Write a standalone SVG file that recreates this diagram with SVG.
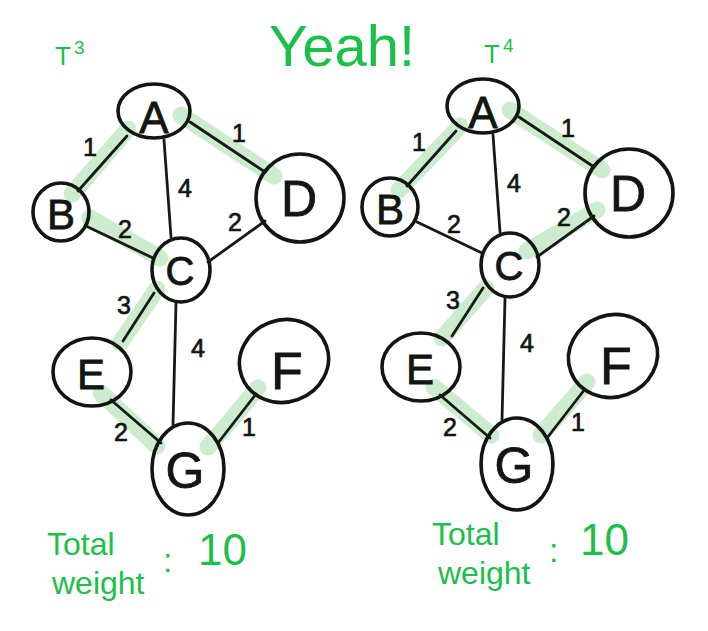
<svg xmlns="http://www.w3.org/2000/svg" width="708" height="631" viewBox="0 0 708 631">
<style>
.hl{stroke:#cdecce;stroke-width:17;stroke-linecap:round;fill:none}
.ed{stroke:#141b15;stroke-width:2.8;stroke-linecap:round;fill:none}
.nd{stroke:#111611;stroke-width:3.6;fill:none}
.lb{font-family:"Liberation Sans",Arial,sans-serif;fill:#111611;stroke:#111611;stroke-width:0.8;text-anchor:middle}
.w{font-family:"Liberation Sans",Arial,sans-serif;fill:#111611;stroke:#111611;stroke-width:0.7;text-anchor:middle;font-size:25px}
.g{font-family:"Liberation Sans",Arial,sans-serif;fill:#1cbf47}
</style>
<rect width="708" height="631" fill="#ffffff"/>
<text class="g" x="342" y="66" font-size="58" text-anchor="middle">Yeah!</text>

<g id="tree3">
<text class="g" x="55" y="65" font-size="26">T</text><text class="g" x="74" y="54" font-size="19">3</text>
<g id="connectors-t3">
<line class="hl" x1="128" y1="129" x2="72" y2="194"/>
<line class="hl" x1="181" y1="115" x2="274" y2="176"/>
<line class="hl" x1="90" y1="218" x2="160" y2="258"/>
<line class="hl" x1="157" y1="289" x2="120" y2="343"/>
<line class="hl" x1="101" y1="393" x2="157" y2="446"/>
<line class="hl" x1="208" y1="447" x2="258" y2="388"/>
<line class="ed" x1="127" y1="136" x2="78" y2="191"/>
<line class="ed" x1="190" y1="122" x2="265" y2="172"/>
<line class="ed" x1="164" y1="140" x2="171" y2="237"/>
<line class="ed" x1="88" y1="227" x2="153" y2="258"/>
<line class="ed" x1="208" y1="262" x2="265" y2="221"/>
<line class="ed" x1="154" y1="293" x2="123" y2="341"/>
<line class="ed" x1="176" y1="303" x2="173" y2="425"/>
<line class="ed" x1="111" y1="400" x2="161" y2="443"/>
<line class="ed" x1="218" y1="443" x2="256" y2="394"/>
<text class="w" x="90" y="156">1</text>
<text class="w" x="239" y="142">1</text>
<text class="w" x="185" y="197" font-size="30">4</text>
<text class="w" x="125" y="238">2</text>
<text class="w" x="235" y="231">2</text>
<text class="w" x="124" y="314">3</text>
<text class="w" x="198" y="357" font-size="28">4</text>
<text class="w" x="121" y="441">2</text>
<text class="w" x="249" y="436">1</text>
</g>
<g id="t3-A"><ellipse class="nd" cx="154" cy="111" rx="36" ry="27"/><text class="lb" x="154" y="133" font-size="44">A</text></g>
<g id="t3-B"><ellipse class="nd" cx="61" cy="212" rx="28" ry="29"/><text class="lb" x="61" y="229" font-size="42">B</text></g>
<g id="t3-C"><ellipse class="nd" cx="181" cy="270" rx="29" ry="32"/><text class="lb" x="180" y="285" font-size="40">C</text></g>
<g id="t3-D"><ellipse class="nd" cx="300" cy="198" rx="44" ry="44"/><text class="lb" x="299" y="216" font-size="50">D</text></g>
<g id="t3-E"><ellipse class="nd" cx="92" cy="372" rx="39" ry="34"/><text class="lb" x="91" y="389" font-size="42">E</text></g>
<g id="t3-F"><ellipse class="nd" cx="284" cy="361" rx="45" ry="41" transform="rotate(-20 284 361)"/><text class="lb" x="287" y="389" font-size="52">F</text></g>
<g id="t3-G"><ellipse class="nd" cx="188" cy="469" rx="36" ry="46"/><text class="lb" x="185" y="488" font-size="50">G</text></g>
<g id="t3-total">
<text class="g" x="47" y="555" font-size="32">Total</text>
<text class="g" x="52" y="594" font-size="32">weight</text>
<text class="g" x="163" y="572" font-size="34">:</text>
<text class="g" x="198" y="565" font-size="44">10</text>
</g>
</g>

<g id="tree4">
<text class="g" x="484" y="63" font-size="26">T</text><text class="g" x="503" y="52" font-size="19">4</text>
<g transform="translate(329,-5)">
<g id="connectors-t4">
<line class="hl" x1="131" y1="131" x2="70" y2="195"/>
<line class="hl" x1="181" y1="115" x2="273" y2="175"/>
<line class="hl" x1="268" y1="215" x2="198" y2="256"/>
<line class="hl" x1="157" y1="293" x2="113" y2="343"/>
<line class="hl" x1="105" y1="392" x2="162" y2="440"/>
<line class="hl" x1="212" y1="440" x2="258" y2="387"/>
<line class="ed" x1="127" y1="136" x2="78" y2="191"/>
<line class="ed" x1="190" y1="122" x2="265" y2="172"/>
<line class="ed" x1="164" y1="140" x2="171" y2="237"/>
<line class="ed" x1="88" y1="227" x2="153" y2="258"/>
<line class="ed" x1="208" y1="262" x2="265" y2="221"/>
<line class="ed" x1="154" y1="293" x2="123" y2="341"/>
<line class="ed" x1="176" y1="303" x2="173" y2="425"/>
<line class="ed" x1="111" y1="400" x2="161" y2="443"/>
<line class="ed" x1="218" y1="443" x2="256" y2="394"/>
<text class="w" x="90" y="156">1</text>
<text class="w" x="239" y="142">1</text>
<text class="w" x="185" y="197" font-size="30">4</text>
<text class="w" x="125" y="238">2</text>
<text class="w" x="235" y="231">2</text>
<text class="w" x="124" y="314">3</text>
<text class="w" x="198" y="357" font-size="28">4</text>
<text class="w" x="121" y="441">2</text>
<text class="w" x="249" y="436">1</text>
</g>
<g id="t4-A"><ellipse class="nd" cx="154" cy="111" rx="36" ry="27"/><text class="lb" x="154" y="133" font-size="44">A</text></g>
<g id="t4-B"><ellipse class="nd" cx="61" cy="212" rx="28" ry="29"/><text class="lb" x="61" y="229" font-size="42">B</text></g>
<g id="t4-C"><ellipse class="nd" cx="181" cy="270" rx="29" ry="32"/><text class="lb" x="180" y="285" font-size="40">C</text></g>
<g id="t4-D"><ellipse class="nd" cx="300" cy="198" rx="44" ry="44"/><text class="lb" x="299" y="216" font-size="50">D</text></g>
<g id="t4-E"><ellipse class="nd" cx="92" cy="372" rx="39" ry="34"/><text class="lb" x="91" y="389" font-size="42">E</text></g>
<g id="t4-F"><ellipse class="nd" cx="284" cy="361" rx="45" ry="41" transform="rotate(-20 284 361)"/><text class="lb" x="287" y="389" font-size="52">F</text></g>
<g id="t4-G"><ellipse class="nd" cx="188" cy="469" rx="36" ry="46"/><text class="lb" x="185" y="488" font-size="50">G</text></g>
</g>
<g id="t4-total">
<text class="g" x="432" y="545" font-size="32">Total</text>
<text class="g" x="438" y="584" font-size="32">weight</text>
<text class="g" x="549" y="562" font-size="34">:</text>
<text class="g" x="580" y="555" font-size="44">10</text>
</g>
</g>
</svg>
